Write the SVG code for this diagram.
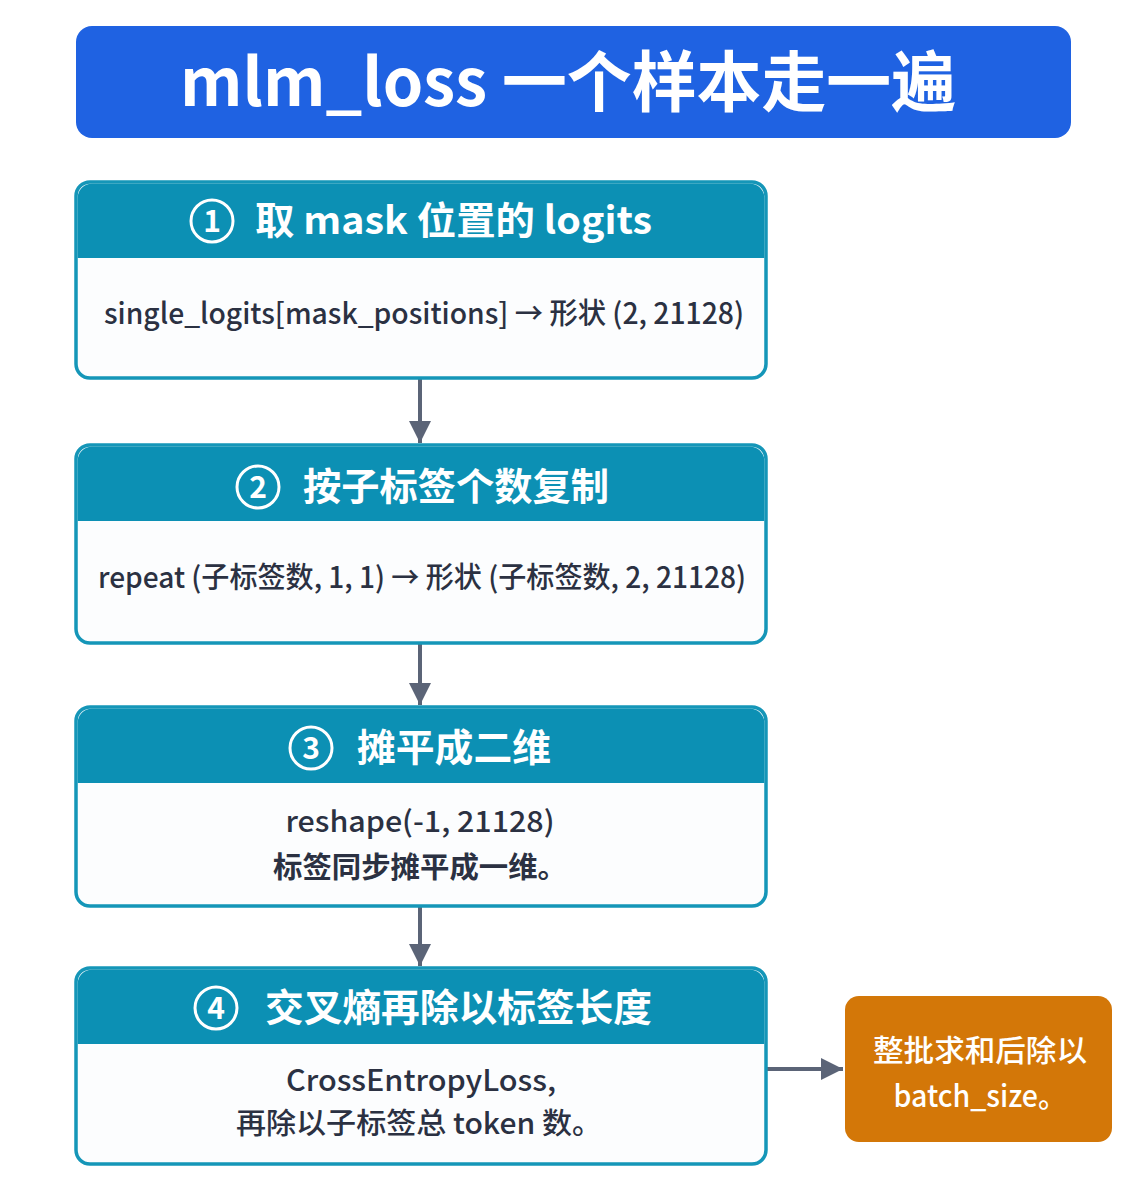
<svg xmlns="http://www.w3.org/2000/svg" width="1144" height="1199" viewBox="0 0 1144 1199">
<defs>
<style>
.t{font-family:"Noto Sans CJK SC","Noto Sans",sans-serif}
.title{font-size:66px;font-weight:700;fill:#fff}
.hd{font-size:38px;font-weight:700;fill:#fff}
.num{font-size:30px;font-weight:700;fill:#fff}
.body{font-size:29px;font-weight:500;fill:#2b3142}
.bb{font-weight:700}
.ob{font-size:30px;font-weight:500;fill:#fff}
.box{fill:#fcfdfe;stroke:#1596b8;stroke-width:3.5}
.head{fill:#0c90b4}
.circ{fill:none;stroke:#fff;stroke-width:3}
.conn{stroke:#5b6477;stroke-width:4;fill:none}
</style>
<marker id="ah" viewBox="0 0 10 10" refX="10" refY="5" markerWidth="5.5" markerHeight="5.5" markerUnits="strokeWidth" orient="auto">
<path d="M0,0 L10,5 L0,10 Z" fill="#5b6477"/>
</marker>
</defs>
<rect width="1144" height="1199" fill="#ffffff"/>

<g id="title">
<rect x="76" y="26" width="995" height="112" rx="16" fill="#1f62e2"/>
<text class="t title" x="568" y="106" text-anchor="middle" textLength="776" lengthAdjust="spacingAndGlyphs">mlm_loss 一个样本走一遍</text>
</g>

<g id="connectors">
<line class="conn" x1="420" y1="378" x2="420" y2="443" marker-end="url(#ah)"/>
<line class="conn" x1="420" y1="643" x2="420" y2="705" marker-end="url(#ah)"/>
<line class="conn" x1="420" y1="906" x2="420" y2="966" marker-end="url(#ah)"/>
<line class="conn" x1="766" y1="1069" x2="843" y2="1069" marker-end="url(#ah)"/>
</g>

<g id="step1">
<rect class="box" x="76" y="182" width="690" height="196" rx="14"/>
<path class="head" d="M77.75,258 V197.75 A14,14 0 0 1 91.75,183.75 H750.25 A14,14 0 0 1 764.25,197.75 V258 Z"/>
<circle class="circ" cx="212" cy="221" r="21"/>
<text class="t num" x="212" y="232" text-anchor="middle">1</text>
<text class="t hd" x="255" y="234" textLength="397" lengthAdjust="spacingAndGlyphs">取 mask 位置的 logits</text>
<text class="t body" x="104" y="324" textLength="640" lengthAdjust="spacingAndGlyphs">single_logits[mask_positions] → 形状 (2, 21128)</text>
</g>

<g id="step2">
<rect class="box" x="76" y="445" width="690" height="198" rx="14"/>
<path class="head" d="M77.75,521 V460.75 A14,14 0 0 1 91.75,446.75 H750.25 A14,14 0 0 1 764.25,460.75 V521 Z"/>
<circle class="circ" cx="258" cy="487" r="21"/>
<text class="t num" x="258" y="498" text-anchor="middle">2</text>
<text class="t hd" x="303" y="500" textLength="306" lengthAdjust="spacingAndGlyphs">按子标签个数复制</text>
<text class="t body" x="98" y="588" textLength="648" lengthAdjust="spacingAndGlyphs">repeat (子标签数, 1, 1) → 形状 (子标签数, 2, 21128)</text>
</g>

<g id="step3">
<rect class="box" x="76" y="707" width="690" height="199" rx="14"/>
<path class="head" d="M77.75,783 V722.75 A14,14 0 0 1 91.75,708.75 H750.25 A14,14 0 0 1 764.25,722.75 V783 Z"/>
<circle class="circ" cx="311" cy="748" r="21"/>
<text class="t num" x="311" y="759" text-anchor="middle">3</text>
<text class="t hd" x="357" y="761" textLength="194" lengthAdjust="spacingAndGlyphs">摊平成二维</text>
<text class="t body" x="420" y="832" text-anchor="middle" textLength="269" lengthAdjust="spacingAndGlyphs">reshape(-1, 21128)</text>
<text class="t body bb" x="420" y="878" text-anchor="middle" textLength="294" lengthAdjust="spacingAndGlyphs">标签同步摊平成一维。</text>
</g>

<g id="step4">
<rect class="box" x="76" y="968" width="690" height="196" rx="14"/>
<path class="head" d="M77.75,1044 V983.75 A14,14 0 0 1 91.75,969.75 H750.25 A14,14 0 0 1 764.25,983.75 V1044 Z"/>
<circle class="circ" cx="216" cy="1008" r="21"/>
<text class="t num" x="216" y="1019" text-anchor="middle">4</text>
<text class="t hd" x="265" y="1021" textLength="387" lengthAdjust="spacingAndGlyphs">交叉熵再除以标签长度</text>
<text class="t body" x="421" y="1091" text-anchor="middle" textLength="270" lengthAdjust="spacingAndGlyphs">CrossEntropyLoss,</text>
<text class="t body" x="419" y="1134" text-anchor="middle" textLength="366" lengthAdjust="spacingAndGlyphs">再除以子标签总 token 数。</text>
</g>

<g id="result">
<rect x="845" y="996" width="267" height="146" rx="14" fill="#d37708"/>
<text class="t ob" x="980" y="1061" text-anchor="middle" textLength="214" lengthAdjust="spacingAndGlyphs">整批求和后除以</text>
<text class="t ob" x="980" y="1107" text-anchor="middle" textLength="173" lengthAdjust="spacingAndGlyphs">batch_size。</text>
</g>
</svg>
